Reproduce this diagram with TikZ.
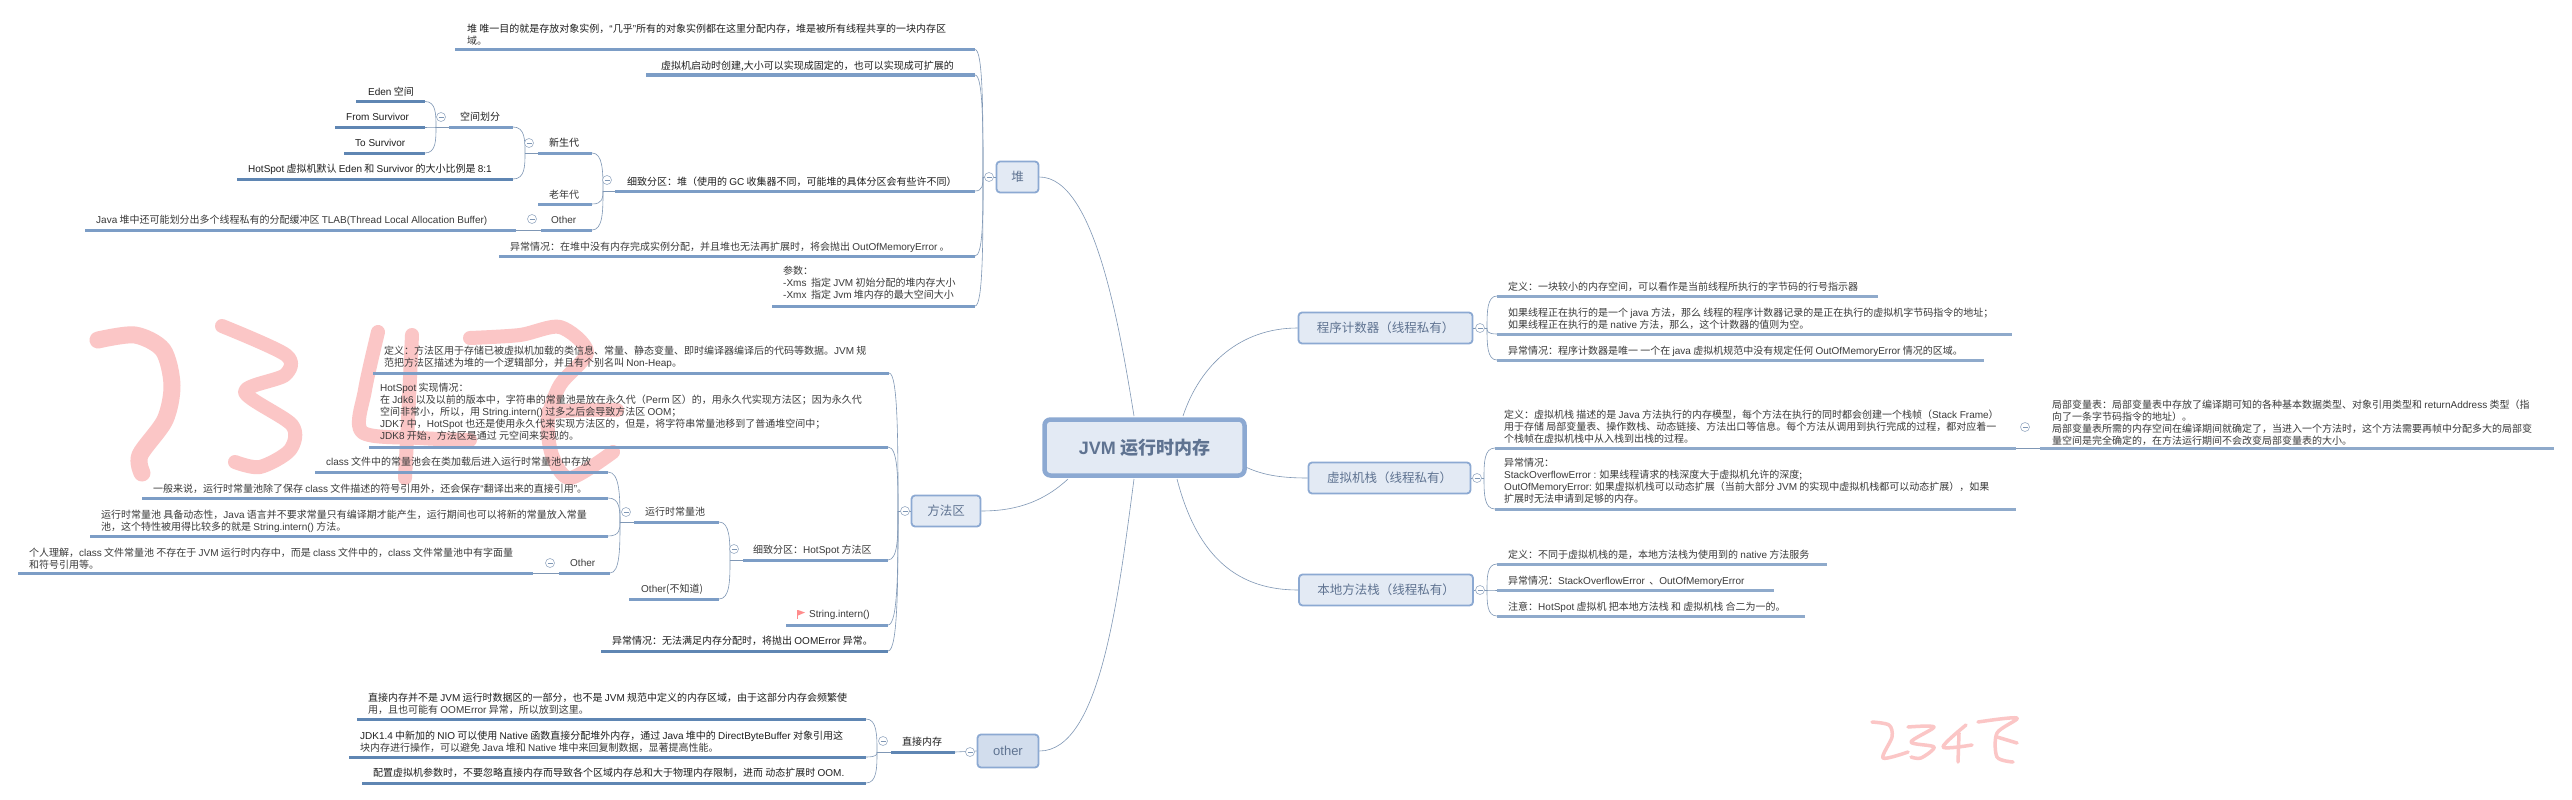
\documentclass[tikz,border=0pt]{standalone}
\usepackage{fontspec}
\setmainfont{Noto Sans CJK SC}
\newfontfamily\latf{Liberation Sans}
\usetikzlibrary{calc}
\newcommand\lat[1]{{\latf #1}}
\definecolor{txt}{HTML}{3A3A3A}
\definecolor{txtd}{HTML}{1E1E1E}
\definecolor{ulh}{HTML}{7C9DC6}
\definecolor{uld}{HTML}{5F86B3}
\definecolor{ulr}{HTML}{8FAACB}
\definecolor{conn}{HTML}{7F97B5}
\definecolor{wm}{HTML}{FBC6C6}
\definecolor{boxf}{HTML}{E3EAF4}
\definecolor{boxd}{HTML}{8CA9D2}
\definecolor{boxt}{HTML}{5F7391}
\newcommand\dk{\color{txtd}}
\tikzset{
  tx/.style={inner sep=0pt,anchor=west,align=left,text=txt,font=\fontsize{10}{12}\selectfont},
  ul/.style={line width=3pt,line cap=butt},
  cn/.style={draw=conn,line width=0.6pt},
  ci/.style={circle,draw=conn!80,line width=0.6pt,fill=white,inner sep=0pt,minimum size=9pt},
  lvl/.style={rounded corners=3.5pt,draw=boxd,fill=boxf,line width=1.8pt,text=boxt,inner sep=0pt,font=\fontsize{12.5}{14}\selectfont},
  wmk/.style={draw=wm,line cap=round,line join=round}
}
% \topic[colour]{name}{underline left}{underline right}{underline y}{text x}{text y}{text}
\newcommand\topic[8][ulh]{%
  \coordinate (#2-l) at (#3,#5);
  \coordinate (#2-r) at (#4,#5);
  \draw[ul,draw=#1] (#2-l) -- (#2-r);
  \node[tx] (#2) at (#6,#7) {#8};
}
% bracket from a child end to a junction
\newcommand\br[2]{\draw[cn] (#1) .. controls (#2 |- #1) and ($(#2)!0.5!(#2 |- #1)$) .. (#2);}
\newcommand\coll[3]{%
  \node[ci] (#1) at (#2,#3) {};
  \draw[conn,line width=0.6pt] ($(#1.center)+(-2.5,0)$) -- ($(#1.center)+(2.5,0)$);
}
\begin{document}
\begin{tikzpicture}[x=1pt,y=-1pt]
\useasboundingbox (0,0) rectangle (2572,800);
\fill[white] (0,0) rectangle (2572,800);

% watermark, large
\begin{scope}[wmk,line width=14pt]
\draw[line width=17pt] plot[smooth] coordinates {(98,340) (135,335) (163,350) (172,385) (165,420) (140,455) (142,473)};
\draw plot[smooth] coordinates {(222,326) (286,355) (285,375) (245,392) (292,425) (290,450) (260,467) (235,462)};
\draw plot[smooth] coordinates {(378,332) (365,390) (362,432) (420,438) (470,440)};
\draw plot[smooth] coordinates {(412,335) (408,420) (405,478)};
\draw plot[smooth] coordinates {(470,338) (520,335) (560,327) (587,352) (560,385) (548,420) (552,455) (570,478) (613,452)};
\draw plot[smooth] coordinates {(548,412) (580,410) (617,410)};
\end{scope}
% watermark, small
\begin{scope}[wmk,line width=3.5pt]
\draw plot[smooth] coordinates {(1872,722) (1889,725) (1892,737) (1883,758) (1908,752)};
\draw plot[smooth] coordinates {(1908,727) (1934,727) (1911,742) (1934,747) (1921,758) (1911,757)};
\draw plot[smooth] coordinates {(1966,725) (1943,747) (1972,745)};
\draw plot[smooth] coordinates {(1959,733) (1958,762)};
\draw plot[smooth] coordinates {(1978,722) (2017,718) (1997,733) (1997,757) (2013,762)};
\draw plot[smooth] coordinates {(1997,737) (2017,743)};
\end{scope}

% main nodes
\node[rounded corners=6pt,draw=boxd,fill=boxf,line width=4.5pt,text=boxt,inner sep=0pt,minimum width=200pt,minimum height=56pt,font=\fontsize{18}{20}\bfseries\selectfont] (jvm) at (1144.5,447.5) {\lat{JVM} 运行时内存};
\node[lvl,minimum width=42pt,minimum height=31pt] (heap) at (1017.5,177) {堆};
\node[lvl,minimum width=174pt,minimum height=31pt] (pc) at (1385.5,328) {程序计数器（线程私有）};
\node[lvl,minimum width=162pt,minimum height=31pt] (vms) at (1389.5,478) {虚拟机栈（线程私有）};
\node[lvl,minimum width=174pt,minimum height=31pt] (nms) at (1386,590) {本地方法栈（线程私有）};
\node[lvl,minimum width=69pt,minimum height=31pt] (ma) at (946,511) {方法区};
\node[lvl,fill=boxf!80!boxd,minimum width=61pt,minimum height=33pt,font=\fontsize{13}{15}\selectfont] (oth) at (1008,751) {\lat{other}};

\draw[cn] (heap.east) .. controls (1095,177) and (1120,330) .. (1134,416);
\draw[cn] (1183,416) .. controls (1200,365) and (1240,328) .. (pc.west);
\draw[cn] (jvm.east) ++(0,20) .. controls (1265,476) and (1285,478) .. (vms.west);
\draw[cn] (1177,479) .. controls (1198,560) and (1240,590) .. (nms.west);
\draw[cn] (1068,479) .. controls (1040,505) and (1010,511) .. (ma.east);
\draw[cn] (1134,479) .. controls (1118,600) and (1100,751) .. (oth.east);

% --- heap ---
\coordinate (jh) at (983,177);
\coordinate (j1) at (436,127);
\coordinate (j2) at (525,153);
\coordinate (j3) at (603,191);
\topic{h1}{455}{975}{49.5}{467}{34.5}{\dk 堆 唯一目的就是存放对象实例，\lat{“}几乎\lat{”}所有的对象实例都在这里分配内存，堆是被所有线程共享的一块内存区\\域。}
\topic{h2}{646}{975}{75}{661}{66}{\dk 虚拟机启动时创建,大小可以实现成固定的，也可以实现成可扩展的}
\topic{h3}{615}{975}{191}{627}{182}{\dk 细致分区：堆（使用的 \lat{GC} 收集器不同，可能堆的具体分区会有些许不同）}
\topic{h4}{499}{975}{256}{510}{247}{异常情况：在堆中没有内存完成实例分配，并且堆也无法再扩展时，将会抛出 \lat{OutOfMemoryError} 。}
\topic{h5}{772}{975}{306}{783}{283}{参数：\\\lat{-Xms}\ \ 指定 \lat{JVM} 初始分配的堆内存大小\\\lat{-Xmx}\ \ 指定 \lat{Jvm} 堆内存的最大空间大小}
\topic{a1}{538}{592}{153}{549}{143}{\dk 新生代}
\topic{a2}{538}{592}{204}{549}{195}{老年代}
\topic{a3}{541}{592}{230}{551}{220}{\lat{Other}}
\topic{a4}{85}{516}{230}{96}{220}{\lat{Java} 堆中还可能划分出多个线程私有的分配缓冲区 \lat{TLAB(Thread Local Allocation Buffer)}}
\topic{b1}{449}{513}{127}{460}{117}{\dk 空间划分}
\topic[uld]{b2}{237}{513}{179}{248}{169}{\dk \lat{HotSpot} 虚拟机默认 \lat{Eden} 和 \lat{Survivor} 的大小比例是 \lat{8:1}}
\topic[uld]{c1}{356}{425}{101.5}{368}{92}{\dk \lat{Eden} 空间}
\topic[uld]{c2}{335}{425}{127}{346}{117}{\dk \lat{From Survivor}}
\topic[uld]{c3}{344}{425}{153}{355}{143}{\dk \lat{To Survivor}}
\br{c1-r}{j1}\br{c2-r}{j1}\br{c3-r}{j1}
\draw[cn] (b1-l) -- (j1);
\br{b1-r}{j2}\br{b2-r}{j2}
\draw[cn] (a1-l) -- (j2);
\br{a1-r}{j3}\br{a2-r}{j3}\br{a3-r}{j3}
\draw[cn] (h3-l) -- (j3);
\draw[cn] (a3-l) -- (a4-r);
\br{h1-r}{jh}\br{h2-r}{jh}\br{h3-r}{jh}\br{h4-r}{jh}\br{h5-r}{jh}
\draw[cn] (jh) -- (heap.west);
\coll{k1}{441}{117}\coll{k2}{529}{143}\coll{k3}{607}{180}\coll{k4}{532}{219}\coll{k5}{989}{177}

% --- method area ---
\coordinate (jm) at (898,511);
\coordinate (jn) at (730,560);
\coordinate (jo) at (620,522);
\topic{m1}{373}{889}{373}{384}{357}{定义：方法区用于存储已被虚拟机加载的类信息、常量、静态变量、即时编译器编译后的代码等数据。\lat{JVM} 规\\范把方法区描述为堆的一个逻辑部分，并且有个别名叫 \lat{Non-Heap}。}
\topic{m2}{369}{888}{447}{380}{412}{\lat{HotSpot} 实现情况：\\在 \lat{Jdk6} 以及以前的版本中，字符串的常量池是放在永久代（\lat{Perm} 区）的，用永久代实现方法区；因为永久代\\空间非常小，所以，用 \lat{String.intern()} 过多之后会导致方法区 \lat{OOM}；\\\lat{JDK7} 中，\lat{HotSpot} 也还是使用永久代来实现方法区的，但是，将字符串常量池移到了普通堆空间中；\\\lat{JDK8} 开始，方法区是通过 元空间来实现的。}
\topic{m3}{743}{888}{560}{753}{550}{细致分区：\lat{HotSpot} 方法区}
\topic{m4}{786}{888}{625}{809}{615}{\lat{String.intern()}}
\topic[uld]{m5}{601}{888}{651}{612}{641}{\dk 异常情况：无法满足内存分配时，将抛出 \lat{OOMError} 异常。}
\topic{n1}{634}{719}{522}{645}{512}{运行时常量池}
\topic{n2}{629}{719}{599}{641}{589}{\lat{Other}(不知道)}
\topic{o1}{315}{608}{472}{326}{462}{\lat{class} 文件中的常量池会在类加载后进入运行时常量池中存放}
\topic{o2}{142}{608}{498}{153}{489}{一般来说，运行时常量池除了保存 \lat{class} 文件描述的符号引用外，还会保存\lat{“}翻译出来的直接引用\lat{”}。}
\topic{o3}{90}{608}{536}{101}{521}{运行时常量池 具备动态性，\lat{Java} 语言并不要求常量只有编译期才能产生，运行期间也可以将新的常量放入常量\\池，这个特性被用得比较多的就是 \lat{String.intern()} 方法。}
\topic{o4}{559}{610}{573}{570}{563}{\lat{Other}}
\topic{o5}{18}{533}{573}{29}{559}{个人理解，\lat{class} 文件常量池 不存在于 \lat{JVM} 运行时内存中，而是 \lat{class} 文件中的，\lat{class} 文件常量池中有字面量\\和符号引用等。}
\br{o1-r}{jo}\br{o2-r}{jo}\br{o3-r}{jo}\br{o4-r}{jo}
\draw[cn] (n1-l) -- (jo);
\draw[cn] (o4-l) -- (o5-r);
\br{n1-r}{jn}\br{n2-r}{jn}
\draw[cn] (m3-l) -- (jn);
\br{m1-r}{jm}\br{m2-r}{jm}\br{m3-r}{jm}\br{m4-r}{jm}\br{m5-r}{jm}
\draw[cn] (jm) -- (ma.west);
\coll{k6}{905}{511}\coll{k7}{734}{549}\coll{k8}{626}{512}\coll{k9}{550}{563}
\fill[red!45!white] (798,610) -- (805,612.5) -- (798,615.5) -- cycle;
\draw[red!45!white,line width=1pt] (797.5,610) -- (797.5,619);

% --- other ---
\coordinate (jd) at (877,752);
\topic[uld]{d0}{891}{955}{752}{902}{742}{\dk 直接内存}
\topic[uld]{d1}{357}{866}{719}{368}{704}{\dk 直接内存并不是 \lat{JVM} 运行时数据区的一部分，也不是 \lat{JVM} 规范中定义的内存区域，由于这部分内存会频繁使\\用，且也可能有 \lat{OOMError} 异常，所以放到这里。}
\topic[uld]{d2}{349}{866}{757}{360}{741.5}{\dk \lat{JDK1.4} 中新加的 \lat{NIO} 可以使用 \lat{Native} 函数直接分配堆外内存，通过 \lat{Java} 堆中的 \lat{DirectByteBuffer} 对象引用这\\块内存进行操作，可以避免 \lat{Java} 堆和 \lat{Native} 堆中来回复制数据，显著提高性能。}
\topic[uld]{d3}{362}{866}{783}{373}{773}{\dk 配置虚拟机参数时，不要忽略直接内存而导致各个区域内存总和大于物理内存限制，进而 动态扩展时 \lat{OOM.}}
\br{d1-r}{jd}\br{d2-r}{jd}\br{d3-r}{jd}
\draw[cn] (d0-l) -- (jd);
\draw[cn] (d0-r) -- (oth.west);
\coll{k10}{883}{741}\coll{k11}{970}{752}

% --- program counter ---
\coordinate (jp) at (1487,328);
\topic[ulr]{p1}{1497}{1878}{296}{1508}{287}{定义：一块较小的内存空间，可以看作是当前线程所执行的字节码的行号指示器}
\topic[ulr]{p2}{1497}{2012}{334}{1508}{319}{如果线程正在执行的是一个 \lat{java} 方法，那么 线程的程序计数器记录的是正在执行的虚拟机字节码指令的地址；\\如果线程正在执行的是 \lat{native} 方法，那么，这个计数器的值则为空。}
\topic[ulr]{p3}{1497}{1984}{360}{1508}{351}{异常情况：程序计数器是唯一 一个在 \lat{java} 虚拟机规范中没有规定任何 \lat{OutOfMemoryError} 情况的区域。}
\br{p1-l}{jp}\br{p2-l}{jp}\br{p3-l}{jp}
\draw[cn] (pc.east) -- (jp);
\coll{k12}{1480}{328}

% --- VM stack ---
\coordinate (jv) at (1484,478);
\topic[ulr]{v1}{1495}{2016}{448}{1504}{427}{定义：虚拟机栈 描述的是 \lat{Java} 方法执行的内存模型，每个方法在执行的同时都会创建一个栈帧（\lat{Stack Frame}）\\用于存储 局部变量表、操作数栈、动态链接、方法出口等信息。每个方法从调用到执行完成的过程，都对应着一\\个栈帧在虚拟机栈中从入栈到出栈的过程。}
\topic[ulr]{v2}{1495}{2016}{509}{1504}{481}{异常情况：\\\lat{StackOverflowError :} 如果线程请求的栈深度大于虚拟机允许的深度;\\\lat{OutOfMemoryError:} 如果虚拟机栈可以动态扩展（当前大部分 \lat{JVM} 的实现中虚拟机栈都可以动态扩展），如果\\扩展时无法申请到足够的内存。}
\topic[ulr]{v3}{2040}{2554}{448}{2052}{422.5}{局部变量表：局部变量表中存放了编译期可知的各种基本数据类型、对象引用类型和 \lat{returnAddress} 类型（指\\向了一条字节码指令的地址）。\\局部变量表所需的内存空间在编译期间就确定了，当进入一个方法时，这个方法需要再帧中分配多大的局部变\\量空间是完全确定的，在方法运行期间不会改变局部变量表的大小。}
\br{v1-l}{jv}\br{v2-l}{jv}
\draw[cn] (vms.east) -- (jv);
\draw[cn] (v1-r) -- (v3-l);
\coll{k13}{1477}{478}\coll{k14}{2025}{427}

% --- native stack ---
\coordinate (jq) at (1487,590);
\topic[ulr]{q1}{1497}{1827}{564}{1508}{555}{定义：不同于虚拟机栈的是，本地方法栈为使用到的 \lat{native} 方法服务}
\topic[ulr]{q2}{1497}{1774}{590}{1508}{581}{异常情况：\lat{StackOverflowError}\ \ 、\lat{OutOfMemoryError}}
\topic[ulr]{q3}{1497}{1805}{616}{1508}{607}{注意：\lat{HotSpot} 虚拟机 把本地方法栈 和 虚拟机栈 合二为一的。}
\br{q1-l}{jq}\br{q2-l}{jq}\br{q3-l}{jq}
\draw[cn] (nms.east) -- (jq);
\coll{k15}{1480}{590}
\end{tikzpicture}
\end{document}
